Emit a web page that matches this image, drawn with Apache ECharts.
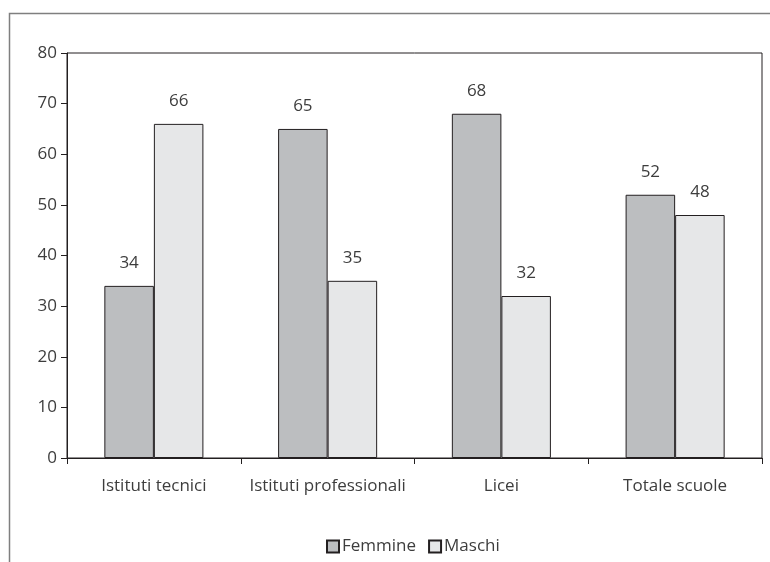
<!DOCTYPE html>
<html>
<head>
<meta charset="utf-8">
<script src="https://cdn.jsdelivr.net/npm/echarts@6/dist/echarts.min.js"></script>
<style>
  html, body { margin: 0; padding: 0; background: #fff; }
  #chart { width: 770px; height: 562px; }
</style>
</head>
<body>
<div id="chart"></div>
<script>
// School types and the share of girls / boys enrolled (%)
const categories = ['Istituti tecnici', 'Istituti professionali', 'Licei', 'Totale scuole'];
const femmine = [34, 65, 68, 52];
const maschi = [66, 35, 32, 48];
const yTicks = [0, 10, 20, 30, 40, 50, 60, 70, 80];

const FONT = '"Open Sans", "Noto Sans", sans-serif';
const TEXT = '#3d3d3d';
const AXIS = '#231f20';

const chart = echarts.init(document.getElementById('chart'), null, { renderer: 'canvas' });

const labelStyle = {
  show: true,
  position: 'top',
  distance: 14,
  fontFamily: FONT,
  fontSize: 17,
  color: TEXT
};

chart.setOption({
  animation: false,
  backgroundColor: '#ffffff',
  graphic: [
    {
      type: 'polyline',
      shape: { points: [[9.5, 562], [9.5, 13.5], [770, 13.5]] },
      style: { stroke: '#7f7f7f', lineWidth: 1.5, fill: null },
      silent: true
    }
  ],
  grid: {
    left: 67,
    right: 8,
    top: 53,
    bottom: 104,
    show: true,
    borderColor: AXIS,
    borderWidth: 1,
    backgroundColor: 'transparent'
  },
  legend: {
    data: ['Femmine', 'Maschi'],
    left: 321,
    top: 533,
    itemWidth: 12,
    itemHeight: 12,
    itemGap: 12,
    icon: 'rect',
    textStyle: { fontFamily: FONT, fontSize: 17, color: TEXT, padding: [0, 0, 0, -2] }
  },
  xAxis: {
    type: 'category',
    data: categories,
    axisLine: { show: true, lineStyle: { color: AXIS, width: 1 } },
    axisTick: { show: true, length: 6, interval: 0, alignWithLabel: false, lineStyle: { color: AXIS } },
    axisLabel: { interval: 0, fontFamily: FONT, fontSize: 17, color: TEXT, margin: 20 },
    splitLine: { show: false }
  },
  yAxis: {
    type: 'value',
    min: yTicks[0],
    max: yTicks[yTicks.length - 1],
    interval: yTicks[1] - yTicks[0],
    axisLine: { show: true, lineStyle: { color: AXIS, width: 1 } },
    axisTick: { show: true, length: 6, lineStyle: { color: AXIS } },
    axisLabel: { fontFamily: FONT, fontSize: 17, color: TEXT, margin: 10 },
    splitLine: { show: false }
  },
  series: [
    {
      name: 'Femmine',
      type: 'bar',
      data: femmine,
      barWidth: '28.5%',
      barGap: '0%',
      itemStyle: { color: '#bcbec0', borderColor: AXIS, borderWidth: 1 },
      label: labelStyle
    },
    {
      name: 'Maschi',
      type: 'bar',
      data: maschi,
      barWidth: '28.5%',
      itemStyle: { color: '#e6e7e8', borderColor: AXIS, borderWidth: 1 },
      label: labelStyle
    }
  ]
});
</script>
</body>
</html>
